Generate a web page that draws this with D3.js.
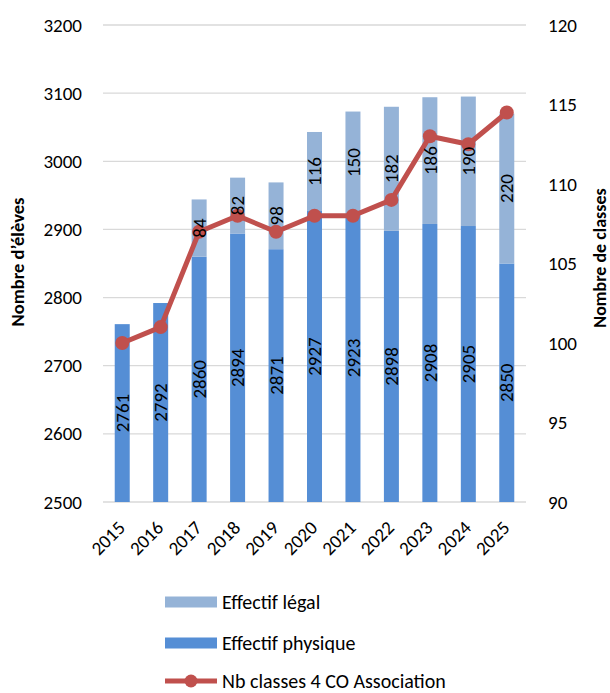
<!DOCTYPE html>
<html>
<head>
<meta charset="utf-8">
<script src="https://cdn.jsdelivr.net/npm/d3@7"></script>
<style>
  body { margin: 0; background: #fff; }
  svg text { font-family: Calibri, Carlito, Lato, "Open Sans", sans-serif; }
</style>
</head>
<body>
<svg id="chart" width="610" height="693"></svg>
<script>
'use strict';

// data
const years = ["2015", "2016", "2017", "2018", "2019", "2020", "2021", "2022", "2023", "2024", "2025"];
const effectifPhysique = [2761, 2792, 2860, 2894, 2871, 2927, 2923, 2898, 2908, 2905, 2850];
const effectifLegalExtra = [0, 0, 84, 82, 98, 116, 150, 182, 186, 190, 220];
const nbClasses = [100, 101, 107, 108, 107, 108, 108, 109, 113, 112.5, 114.5];
const leftTicks = [2500, 2600, 2700, 2800, 2900, 3000, 3100, 3200];
const rightTicks = [90, 95, 100, 105, 110, 115, 120];

const darkBlue = "#558ed5";
const lightBlue = "#95b3d7";
const red = "#c0504d";

const svg = d3.select("#chart");
const plot = { left: 103, right: 526, top: 25, bottom: 502 };

let x = d3.scaleBand()
    .domain(years)
    .range([plot.left, plot.right])
    .paddingInner(0.61)
    .paddingOuter(0.305);

let yLeft = d3.scaleLinear().domain([2500, 3200]).range([plot.bottom, plot.top]);
let yRight = d3.scaleLinear().domain([90, 120]).range([plot.bottom, plot.top]);

// gridlines
svg.append("g")
    .selectAll("line")
    .data(leftTicks)
    .join("line")
    .attr("x1", plot.left)
    .attr("x2", plot.right)
    .attr("y1", d => yLeft(d))
    .attr("y2", d => yLeft(d))
    .attr("stroke", "#d9d9d9")
    .attr("stroke-width", 1.3);

// left axis
let leftAxis = svg.append("g")
    .attr("transform", `translate(${plot.left},0)`)
    .call(d3.axisLeft(yLeft).tickValues(leftTicks).tickSize(0).tickPadding(21).tickFormat(d3.format("d")));
leftAxis.select(".domain").remove();
leftAxis.selectAll("text").attr("font-size", 19).attr("fill", "#000");

// right axis
let rightAxis = svg.append("g")
    .attr("transform", `translate(${plot.right},0)`)
    .call(d3.axisRight(yRight).tickValues(rightTicks).tickSize(0).tickPadding(22));
rightAxis.select(".domain").remove();
rightAxis.selectAll("text").attr("font-size", 19).attr("fill", "#000");

// bottom axis labels
let bottomAxis = svg.append("g")
    .attr("transform", `translate(0,${plot.bottom})`)
    .call(d3.axisBottom(x).tickSize(0).tickPadding(0));
bottomAxis.select(".domain").remove();
bottomAxis.selectAll("text")
    .attr("font-size", 19)
    .attr("fill", "#000")
    .attr("text-anchor", "end")
    .attr("dy", 0)
    .attr("transform", "translate(4,27) rotate(-45)");

// bars
let stacked = years.map((yr, i) => ({
    year: yr,
    phys: effectifPhysique[i],
    extra: effectifLegalExtra[i]
}));

svg.append("g")
    .selectAll("rect")
    .data(stacked)
    .join("rect")
    .attr("x", d => x(d.year))
    .attr("width", x.bandwidth())
    .attr("y", d => yLeft(d.phys))
    .attr("height", d => yLeft(2500) - yLeft(d.phys))
    .attr("fill", darkBlue);

svg.append("g")
    .selectAll("rect")
    .data(stacked.filter(d => d.extra > 0))
    .join("rect")
    .attr("x", d => x(d.year))
    .attr("width", x.bandwidth())
    .attr("y", d => yLeft(d.phys + d.extra))
    .attr("height", d => yLeft(d.phys) - yLeft(d.phys + d.extra))
    .attr("fill", lightBlue);

// line
let linePts = years.map((yr, i) => [x(yr) + x.bandwidth() / 2, yRight(nbClasses[i])]);
svg.append("path")
    .datum(linePts)
    .attr("d", d3.line())
    .attr("fill", "none")
    .attr("stroke", red)
    .attr("stroke-width", 5)
    .attr("stroke-linejoin", "round");

svg.append("g")
    .selectAll("circle")
    .data(linePts)
    .join("circle")
    .attr("cx", d => d[0])
    .attr("cy", d => d[1])
    .attr("r", 7)
    .attr("fill", red);

// data labels (drawn over the line)
let cx = d => x(d.year) + x.bandwidth() / 2;
svg.append("g")
    .selectAll("text")
    .data(stacked)
    .join("text")
    .attr("transform", d => `translate(${cx(d)},${yLeft((2500 + d.phys) / 2)}) rotate(-90)`)
    .attr("text-anchor", "middle")
    .attr("dy", "0.35em")
    .attr("font-size", 19)
    .text(d => d.phys);

svg.append("g")
    .selectAll("text")
    .data(stacked.filter(d => d.extra > 0))
    .join("text")
    .attr("transform", d => `translate(${cx(d)},${yLeft(d.phys + d.extra / 2)}) rotate(-90)`)
    .attr("text-anchor", "middle")
    .attr("dy", "0.35em")
    .attr("font-size", 19)
    .text(d => d.extra);

// axis titles
svg.append("text")
    .attr("transform", `translate(18,262) rotate(-90)`)
    .attr("text-anchor", "middle")
    .attr("dy", "0.35em")
    .attr("font-size", 18.5)
    .attr("font-weight", "bold")
    .text("Nombre d’élèves");

svg.append("text")
    .attr("transform", `translate(600,258) rotate(-90)`)
    .attr("text-anchor", "middle")
    .attr("dy", "0.35em")
    .attr("font-size", 18)
    .attr("font-weight", "bold")
    .text("Nombre de classes");

// legend
let legend = svg.append("g").attr("transform", "translate(165,0)");
let legendItems = [
    { label: "Effectif légal", type: "bar", color: lightBlue, y: 602 },
    { label: "Effectif physique", type: "bar", color: darkBlue, y: 643 },
    { label: "Nb classes 4 CO Association", type: "line", color: red, y: 681 }
];
legendItems.forEach(item => {
    if (item.type === "bar") {
        legend.append("rect")
            .attr("x", 0).attr("y", item.y - 5.5)
            .attr("width", 52).attr("height", 11)
            .attr("fill", item.color);
    } else {
        legend.append("line")
            .attr("x1", 0).attr("x2", 52)
            .attr("y1", item.y).attr("y2", item.y)
            .attr("stroke", item.color).attr("stroke-width", 5);
        legend.append("circle")
            .attr("cx", 26).attr("cy", item.y).attr("r", 6.5)
            .attr("fill", item.color);
    }
    legend.append("text")
        .attr("x", 57).attr("y", item.y)
        .attr("dy", "0.33em")
        .attr("font-size", 20)
        .text(item.label);
});
</script>
</body>
</html>
